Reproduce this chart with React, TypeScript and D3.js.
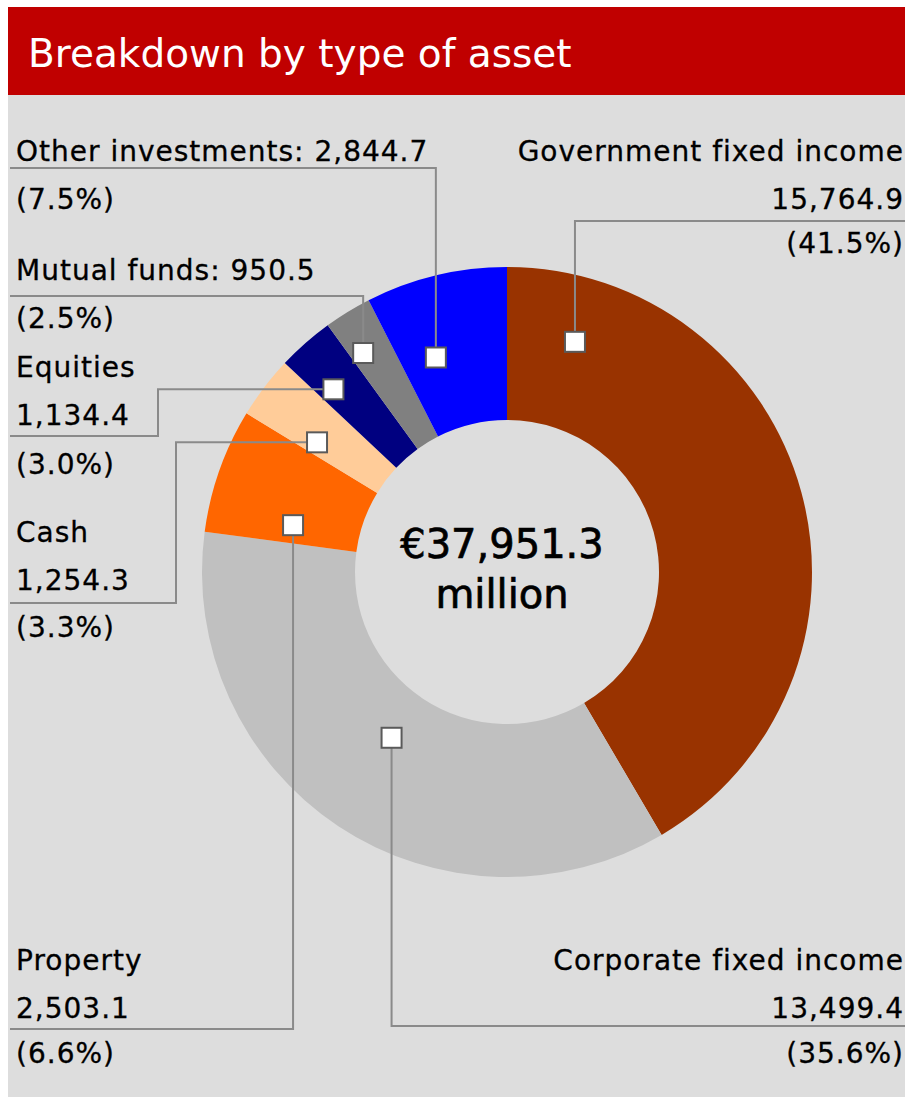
import React from 'react';
import * as d3 from 'd3';

// asset breakdown, € million
const categories = [
  'Government fixed income',
  'Corporate fixed income',
  'Property',
  'Cash',
  'Equities',
  'Mutual funds',
  'Other investments',
];
const values = [15764.9, 13499.4, 2503.1, 1254.3, 1134.4, 950.5, 2844.7];
const colors = ['#993300', '#c0c0c0', '#ff6600', '#ffcc99', '#000080', '#808080', '#0000ff'];

const W = 905;
const H = 1097;
const cx = 507;
const cy = 572;
const outerR = 305;
const innerR = 152;
const FONT = '"DejaVu Sans", Verdana, sans-serif';

// where the little square sits inside each slice: share of the slice angle, radius
const markerPlace = [
  { f: 0.11, r: 240 },
  { f: 0.51, r: 202 },
  { f: 0.2, r: 219 },
  { f: 0.25, r: 230 },
  { f: 0.3, r: 252 },
  { f: 0.3, r: 262 },
  { f: 0.32, r: 226 },
];

// label blocks: side, baselines of each text line, y of the rule, how the leader runs
const labelLayout = [
  { side: 'right', lines: [161, 209, 253], ruleY: 221, route: 'up' },
  { side: 'right', lines: [970, 1018, 1063], ruleY: 1026, route: 'down' },
  { side: 'left', lines: [970, 1018, 1063], ruleY: 1029, route: 'down' },
  { side: 'left', lines: [542, 590, 637], ruleY: 603, route: 'elbow', elbowX: 176 },
  { side: 'left', lines: [377, 425, 474], ruleY: 436, route: 'elbow', elbowX: 158 },
  { side: 'left', lines: [280, 328], ruleY: 296, route: 'up' },
  { side: 'left', lines: [161, 209], ruleY: 168, route: 'up' },
];

const fmtVal = d3.format(',.1f');
const fmtPct = d3.format('.1%');

export default function App() {
  const total = d3.sum(values);
  const data = categories.map((name, i) => ({ name, value: values[i], color: colors[i], i }));

  const pie = d3.pie<any>().value((d) => d.value).sort(null).startAngle(0).endAngle(2 * Math.PI);
  const arcs = pie(data);
  const arc = d3.arc<any>().innerRadius(innerR).outerRadius(outerR);

  const markers = arcs.map((a, i) => {
    const p = markerPlace[i];
    const ang = a.startAngle + p.f * (a.endAngle - a.startAngle);
    return { x: cx + p.r * Math.sin(ang), y: cy - p.r * Math.cos(ang) };
  });

  const leftX = 10;
  const textLeft = 16;
  const textRight = 904;

  const leader = (i: number) => {
    const m = markers[i];
    const L: any = labelLayout[i];
    const edge = L.side === 'left' ? leftX : W;
    if (L.route === 'elbow') {
      return `M${m.x},${m.y}H${L.elbowX}V${L.ruleY}H${edge}`;
    }
    return `M${m.x},${m.y}V${L.ruleY}H${edge}`;
  };

  const labelLines = (i: number) => {
    const d = data[i];
    const pct = `(${fmtPct(d.value / total)})`;
    if (labelLayout[i].lines.length === 2) {
      return [`${d.name}: ${fmtVal(d.value)}`, pct];
    }
    return [d.name, fmtVal(d.value), pct];
  };

  return (
    <svg
      width={W}
      height={H}
      style={{ position: 'absolute', left: 0, top: 0, background: '#fff' }}
      fontFamily={FONT}
    >
      <rect x={8} y={95} width={W - 8} height={H - 95} fill="#dddddd" />
      <rect x={8} y={7} width={W - 8} height={88} fill="#c00000" />
      <text x={28} y={67} fill="#fff" fontSize={39}>
        Breakdown by type of asset
      </text>

      <g transform={`translate(${cx},${cy})`}>
        {arcs.map((a, i) => (
          <path key={i} d={arc(a) as string} fill={a.data.color} />
        ))}
      </g>

      <g fill="none" stroke="#8a8a8a" strokeWidth={2}>
        {data.map((d, i) => (
          <path key={i} d={leader(i)} />
        ))}
      </g>

      {markers.map((m, i) => (
        <rect
          key={i}
          x={m.x - 10}
          y={m.y - 10}
          width={20}
          height={20}
          fill="#fff"
          stroke="#5a5a5a"
          strokeWidth={2}
        />
      ))}

      {data.map((d, i) => {
        const L = labelLayout[i];
        const right = L.side === 'right';
        return (
          <g key={i} fontSize={28} letterSpacing={1} fill="#000" stroke="#000" strokeWidth={0.3}>
            {labelLines(i).map((t, k) => (
              <text
                key={k}
                x={right ? textRight : textLeft}
                y={L.lines[k]}
                textAnchor={right ? 'end' : 'start'}
              >
                {t}
              </text>
            ))}
          </g>
        );
      })}

      <g textAnchor="middle" fontSize={40} fill="#000" stroke="#000" strokeWidth={0.7}>
        <text x={cx - 5} y={558}>{`€${fmtVal(total)}`}</text>
        <text x={cx - 5} y={608}>million</text>
      </g>
    </svg>
  );
}
